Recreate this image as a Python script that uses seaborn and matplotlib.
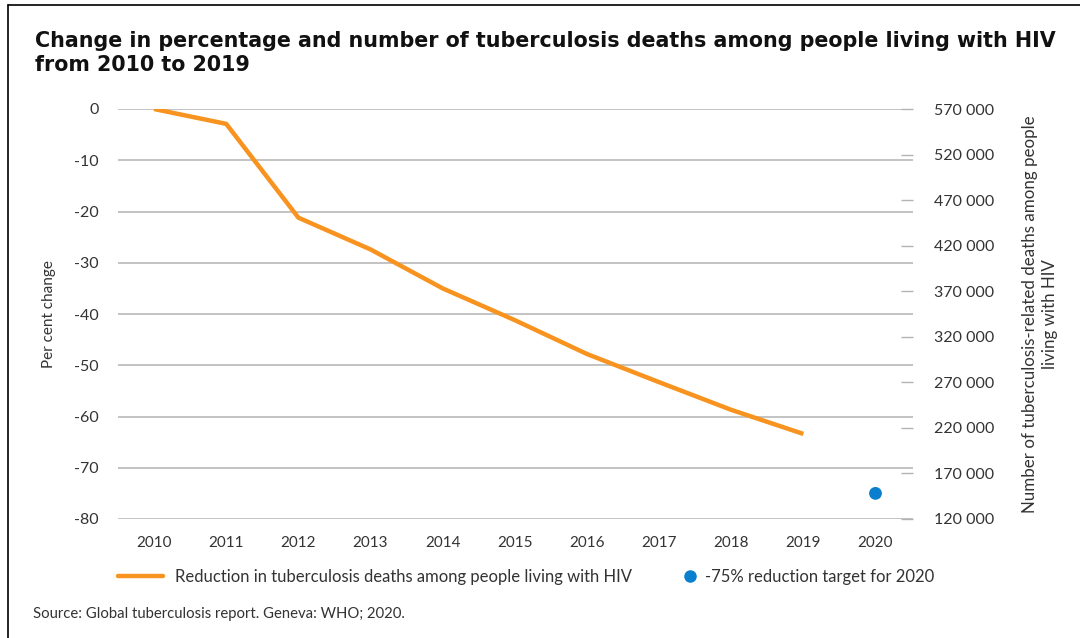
import matplotlib
matplotlib.use("Agg")
import matplotlib.pyplot as plt
import matplotlib.lines as mlines
from matplotlib.ticker import FuncFormatter
import seaborn as sns
import pandas as pd

years = [2010, 2011, 2012, 2013, 2014, 2015, 2016, 2017, 2018, 2019]
pct_change = [0, -2.9, -21.2, -27.4, -35.0, -41.2, -47.8, -53.3, -58.7, -63.4]
target_year = [2020]
target_value = [-75]
left_ticks = [0, -10, -20, -30, -40, -50, -60, -70, -80]
right_ticks = [120000, 170000, 220000, 270000, 320000, 370000, 420000, 470000, 520000, 570000]
x_ticks = [2010, 2011, 2012, 2013, 2014, 2015, 2016, 2017, 2018, 2019, 2020]

title_1 = "Change in percentage and number of tuberculosis deaths among people living with HIV"
title_2 = "from 2010 to 2019"
line_label = "Reduction in tuberculosis deaths among people living with HIV"
dot_label = "-75% reduction target for 2020"
source = "Source: Global tuberculosis report. Geneva: WHO; 2020."

ORANGE = "#F7931E"
BLUE = "#0A7FCF"
TXT = "#333333"

sns.set_theme(style="white")
plt.rcParams['font.family'] = ['Lato', 'DejaVu Sans']
plt.rcParams['axes.unicode_minus'] = False

df_line = pd.DataFrame({"year": years, "pct": pct_change})
df_dot = pd.DataFrame({"year": target_year, "pct": target_value})

W, H = 1080, 638
fig = plt.figure(figsize=(W / 100, H / 100), dpi=100)
ax = fig.add_axes([118 / W, 1 - 519 / H, (913 - 118) / W, (519 - 109) / H])

sns.lineplot(data=df_line, x="year", y="pct", ax=ax, color=ORANGE, linewidth=3.2,
             label=line_label, legend=False, solid_capstyle="butt")
sns.scatterplot(data=df_dot, x="year", y="pct", ax=ax, color=BLUE, s=85,
                edgecolor="none", label=dot_label, legend=False, zorder=5)

ax.set_xlim(2009.5, 2020.52)
ax.set_ylim(-80, 0)
ax.set_yticks(left_ticks)
ax.set_xticks(x_ticks)
ax.grid(axis="y", color="#b3b3b3", linewidth=1.1)
ax.grid(axis="x", visible=False)
ax.set_axisbelow(True)
for s in ax.spines.values():
    s.set_visible(False)
ax.tick_params(axis="y", length=0, pad=14, labelsize=11.5, labelcolor=TXT)
ax.tick_params(axis="x", length=0, pad=12, labelsize=11, labelcolor=TXT)
ax.set_xlabel("")
ax.set_ylabel("Per cent change", fontsize=11, color=TXT, labelpad=13)

ax2 = ax.twinx()
ax2.set_ylim(120000, 570000)
ax2.set_yticks(right_ticks)
ax2.yaxis.set_major_formatter(FuncFormatter(lambda v, p: f"{int(v):,}".replace(",", " ")))
for s in ax2.spines.values():
    s.set_visible(False)
ax2.grid(False)
ax2.tick_params(axis="y", direction="in", length=9, width=1, color="#b3b3b3",
                pad=-1, labelsize=11.5, labelcolor=TXT)
for lbl in ax2.get_yticklabels():
    lbl.set_x(1.0 + 22 / (913 - 118))
ax2.set_ylabel("Number of tuberculosis-related deaths among people\nliving with HIV",
               fontsize=12.2, color=TXT, labelpad=20, linespacing=1.35)

title_font = dict(fontsize=14.9, fontweight="bold", color="#111111",
                  family=["DejaVu Sans"])
fig.text(35 / W, 1 - 47 / H, title_1, ha="left", va="baseline", **title_font)
fig.text(35 / W, 1 - 71 / H, title_2, ha="left", va="baseline", **title_font)

h_line = mlines.Line2D([], [], color=ORANGE, linewidth=3.2)
h_dot = mlines.Line2D([], [], color=BLUE, marker="o", linestyle="none", markersize=8)
leg1 = fig.legend([h_line], [line_label], loc="center left",
                  bbox_to_anchor=(118 / W, 1 - 577 / H), frameon=False, borderpad=0,
                  borderaxespad=0, fontsize=12, handlelength=2.7, handletextpad=0.7,
                  labelcolor=TXT)
leg2 = fig.legend([h_dot], [dot_label], loc="center left",
                  bbox_to_anchor=(682 / W, 1 - 577 / H), frameon=False, borderpad=0,
                  borderaxespad=0, fontsize=12, handlelength=1.0, handletextpad=0.4,
                  labelcolor=TXT)

fig.text(33 / W, 1 - 614 / H, source, ha="left", va="center", fontsize=10.7, color=TXT)

fig.add_artist(mlines.Line2D([8 / W, 8 / W], [0, 1 - 5 / H], color="black", linewidth=1.2))
fig.add_artist(mlines.Line2D([8 / W, 1], [1 - 5 / H, 1 - 5 / H], color="black", linewidth=1.2))

fig.savefig("out.png", dpi=100, facecolor="white")
